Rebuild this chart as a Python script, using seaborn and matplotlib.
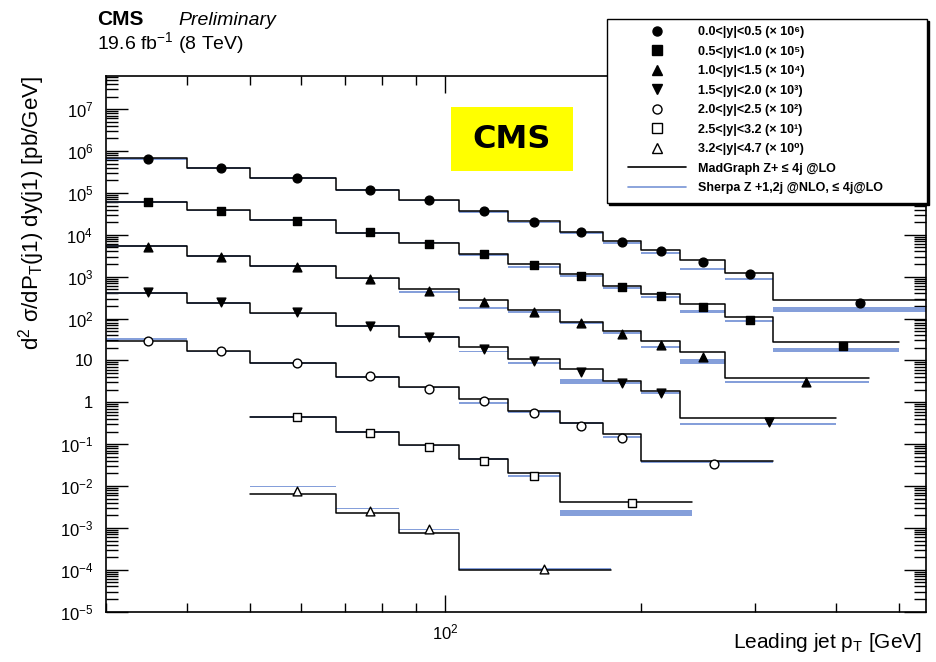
import numpy as np
import pandas as pd
import matplotlib
matplotlib.use("Agg")
import matplotlib.pyplot as plt
from matplotlib.ticker import FixedLocator, LogLocator, FuncFormatter, NullFormatter
from matplotlib.lines import Line2D
from matplotlib.patches import Rectangle
from matplotlib.font_manager import FontProperties
import seaborn as sns

# ---------------------------------------------------------------------------
# Z + jets, 8 TeV: leading-jet pT spectrum in bins of leading-jet rapidity
# (cross sections in pb/GeV, before the per-bin display scale factor)
# ---------------------------------------------------------------------------
rapidity_bins = ["0.0<|y|<0.5", "0.5<|y|<1.0", "1.0<|y|<1.5", "1.5<|y|<2.0",
                 "2.0<|y|<2.5", "2.5<|y|<3.2", "3.2<|y|<4.7"]
scale_exp = [6, 5, 4, 3, 2, 1, 0]

# pT bin edges [GeV]
edges_0 = [30, 40, 50, 68, 85, 105, 125, 150, 175, 200, 230, 270, 320, 550]
edges_1 = [30, 40, 50, 68, 85, 105, 125, 150, 175, 200, 230, 270, 320, 500]
edges_2 = [30, 40, 50, 68, 85, 105, 125, 150, 175, 200, 230, 270, 450]
edges_3 = [30, 40, 50, 68, 85, 105, 125, 150, 175, 200, 230, 400]
edges_4 = [30, 40, 50, 68, 85, 105, 125, 150, 175, 200, 320]
edges_5 = [50, 68, 85, 105, 125, 150, 240]
edges_6 = [50, 68, 85, 105, 180]

# mean pT of each bin (marker position) [GeV]
pt_0 = [34.9, 45.1, 59.2, 76.7, 94.5, 114.8, 137, 161.9, 187.2, 214.9, 249.4, 294.5, 434.8]
pt_1 = [34.9, 45.1, 59.2, 76.7, 94.5, 114.8, 137, 161.9, 187.2, 214.9, 249.4, 294.5, 410]
pt_2 = [34.9, 45.1, 59.2, 76.7, 94.5, 114.8, 137, 161.9, 187.2, 214.9, 249.4, 360]
pt_3 = [34.9, 45.1, 59.2, 76.7, 94.5, 114.8, 137, 161.9, 187.2, 214.9, 315]
pt_4 = [34.9, 45.1, 59.2, 76.7, 94.5, 114.8, 137, 161.9, 187.2, 259]
pt_5 = [59.2, 76.7, 94.5, 114.8, 137, 194]
pt_6 = [59.2, 76.7, 94.5, 142]

# measured cross sections
data_0 = [6.4e-1, 3.9e-1, 2.32e-1, 1.18e-1, 6.9e-2, 3.72e-2, 2.0e-2, 1.15e-2, 6.66e-3, 4.06e-3, 2.22e-3, 1.16e-3, 2.33e-4]
data_1 = [6.0e-1, 3.72e-1, 2.18e-1, 1.15e-1, 6.06e-2, 3.56e-2, 1.91e-2, 1.03e-2, 5.8e-3, 3.47e-3, 1.87e-3, 9.4e-4, 2.26e-4]
data_2 = [5.06e-1, 3.0e-1, 1.74e-1, 8.71e-2, 4.66e-2, 2.5e-2, 1.44e-2, 7.75e-3, 4.3e-3, 2.39e-3, 1.21e-3, 3.12e-4]
data_3 = [4.26e-1, 2.54e-1, 1.42e-1, 6.79e-2, 3.59e-2, 1.88e-2, 9.9e-3, 5.4e-3, 2.86e-3, 1.70e-3, 3.46e-4]
data_4 = [2.97e-1, 1.66e-1, 8.87e-2, 4.27e-2, 2.09e-2, 1.06e-2, 5.48e-3, 2.73e-3, 1.435e-3, 3.38e-4]
data_5 = [4.4e-2, 1.89e-2, 8.75e-3, 3.98e-3, 1.745e-3, 3.89e-4]
data_6 = [7.65e-3, 2.55e-3, 9.46e-4, 1.05e-4]

# MadGraph Z + <=4j @LO prediction
mg_0 = [6.76e-1, 4.03e-1, 2.32e-1, 1.18e-1, 6.82e-2, 3.79e-2, 2.11e-2, 1.15e-2, 7.27e-3, 4.36e-3, 2.48e-3, 1.25e-3, 2.79e-4]
mg_1 = [6.21e-1, 3.87e-1, 2.27e-1, 1.13e-1, 6.31e-2, 3.50e-2, 2.02e-2, 1.16e-2, 6.02e-3, 3.88e-3, 2.20e-3, 1.11e-3, 2.72e-4]
mg_2 = [5.43e-1, 3.18e-1, 1.81e-1, 9.35e-2, 5.02e-2, 2.79e-2, 1.61e-2, 8.18e-3, 5.07e-3, 2.97e-3, 1.60e-3, 3.76e-4]
mg_3 = [4.03e-1, 2.40e-1, 1.34e-1, 6.67e-2, 3.71e-2, 2.14e-2, 1.07e-2, 6.17e-3, 3.24e-3, 1.87e-3, 4.17e-4]
mg_4 = [2.88e-1, 1.66e-1, 8.87e-2, 4.11e-2, 2.29e-2, 1.19e-2, 6.22e-3, 3.22e-3, 1.73e-3, 3.98e-4]
mg_5 = [4.48e-2, 2.0e-2, 9.44e-3, 4.45e-3, 2.02e-3, 4.25e-4]
mg_6 = [6.59e-3, 2.24e-3, 7.73e-4, 1.01e-4]

# Sherpa Z + 1,2j @NLO, <=4j @LO prediction and its relative uncertainty
sh_0 = [6.6e-1, 3.95e-1, 2.27e-1, 1.15e-1, 6.6e-2, 3.58e-2, 1.96e-2, 1.09e-2, 6.31e-3, 3.64e-3, 1.53e-3, 8.85e-4, 1.67e-4]
sh_1 = [6.0e-1, 3.8e-1, 2.22e-1, 1.11e-1, 6.55e-2, 3.31e-2, 1.74e-2, 1.03e-2, 5.31e-3, 3.34e-3, 1.47e-3, 8.8e-4, 1.81e-4]
sh_2 = [5.3e-1, 3.1e-1, 1.77e-1, 9.1e-2, 4.41e-2, 1.83e-2, 1.44e-2, 7.75e-3, 4.61e-3, 2.14e-3, 9.37e-4, 3.02e-4]
sh_3 = [4.0e-1, 2.38e-1, 1.32e-1, 6.6e-2, 3.65e-2, 1.63e-2, 8.59e-3, 3.12e-3, 2.86e-3, 1.70e-3, 3.05e-4]
sh_4 = [3.21e-1, 1.64e-1, 8.7e-2, 4.05e-2, 2.25e-2, 9.84e-3, 5.79e-3, 3.16e-3, 1.52e-3, 3.7e-4]
sh_5 = [4.4e-2, 1.97e-2, 9.3e-3, 4.4e-3, 1.77e-3, 2.28e-4]
sh_6 = [9.9e-3, 2.89e-3, 9.31e-4, 1.05e-4]

shu_0 = [.05, .05, .05, .05, .05, .05, .05, .05, .05, .05, .07, .07, .15]
shu_1 = [.05, .05, .05, .05, .05, .05, .05, .05, .05, .05, .07, .06, .12]
shu_2 = [.05, .05, .05, .05, .05, .05, .05, .05, .05, .05, .13, .06]
shu_3 = [.05, .05, .05, .05, .05, .05, .05, .13, .05, .06, .06]
shu_4 = [.05, .05, .05, .05, .05, .05, .05, .05, .05, .05]
shu_5 = [.05, .05, .05, .05, .05, .17]
shu_6 = [.04, .04, .04, .04]

# axis tick positions
x_major_ticks = [100]
y_major_ticks = [1e-5, 1e-4, 1e-3, 1e-2, 1e-1, 1, 10, 1e2, 1e3, 1e4, 1e5, 1e6, 1e7]

edges = [edges_0, edges_1, edges_2, edges_3, edges_4, edges_5, edges_6]
pts = [pt_0, pt_1, pt_2, pt_3, pt_4, pt_5, pt_6]
data = [data_0, data_1, data_2, data_3, data_4, data_5, data_6]
madgraph = [mg_0, mg_1, mg_2, mg_3, mg_4, mg_5, mg_6]
sherpa = [sh_0, sh_1, sh_2, sh_3, sh_4, sh_5, sh_6]
sherpa_unc = [shu_0, shu_1, shu_2, shu_3, shu_4, shu_5, shu_6]

markers = ["o", "s", "^", "v", "o", "s", "^"]
filled = [True, True, True, True, False, False, False]

SHERPA_COLOR = "#7895d6"
SUPERSCRIPT = str.maketrans("0123456789", "⁰¹²³⁴⁵⁶⁷⁸⁹")

# ---------------------------------------------------------------------------
sns.set_style("ticks")
plt.rcParams["font.family"] = ["Liberation Sans", "DejaVu Sans"]
plt.rcParams["mathtext.fontset"] = "custom"
plt.rcParams["mathtext.rm"] = "Liberation Sans"
plt.rcParams["mathtext.it"] = "Liberation Sans:italic"
plt.rcParams["mathtext.bf"] = "Liberation Sans:bold"
plt.rcParams["mathtext.default"] = "regular"
plt.rcParams["text.color"] = "black"
plt.rcParams["axes.labelcolor"] = "black"

W, H = 936, 662
fig = plt.figure(figsize=(W / 100, H / 100), dpi=100)
fig.patch.set_facecolor("white")
ax_l, ax_r, ax_t, ax_b = 105.7, 926, 75.7, 611.7
ax = fig.add_axes([ax_l / W, 1 - ax_b / H, (ax_r - ax_l) / W, (ax_b - ax_t) / H])

for i in range(len(rapidity_bins)):
    f = 10.0 ** scale_exp[i]
    e = np.asarray(edges[i], float)
    sh = np.asarray(sherpa[i]) * f
    su = np.asarray(sherpa_unc[i])
    # Sherpa: horizontal band per bin
    ax.stairs(sh * (1 + su), e, baseline=sh * (1 - su), fill=True,
              color=SHERPA_COLOR, lw=0, alpha=0.9, zorder=2)

    # MadGraph: black step histogram
    mg = np.asarray(madgraph[i]) * f
    step = pd.DataFrame({"pt": e, "xsec": np.append(mg, mg[-1])})
    sns.lineplot(data=step, x="pt", y="xsec", ax=ax, drawstyle="steps-post",
                 color="black", lw=1.1, errorbar=None, sort=False,
                 legend=False, zorder=3)

    # data points
    pts_df = pd.DataFrame({"pt": pts[i], "xsec": np.asarray(data[i]) * f})
    sns.scatterplot(data=pts_df, x="pt", y="xsec", ax=ax, marker=markers[i],
                    s=40, facecolor="black" if filled[i] else "white",
                    edgecolor="black", linewidth=1.0, zorder=4, legend=False)

ax.set_xscale("log")
ax.set_yscale("log")
ax.set_xlim(30, 550)
ax.set_ylim(1e-5, 6.3e7)


def pow10_label(v, pos):
    n = int(round(np.log10(v)))
    if n == 0:
        return "1"
    if n == 1:
        return "10"
    return r"$\mathdefault{10^{%d}}$" % n


ax.yaxis.set_major_locator(FixedLocator(y_major_ticks))
ax.yaxis.set_minor_locator(LogLocator(base=10, subs=np.arange(2, 10), numticks=100))
ax.yaxis.set_major_formatter(FuncFormatter(pow10_label))
ax.yaxis.set_minor_formatter(NullFormatter())
ax.xaxis.set_major_locator(FixedLocator(x_major_ticks))
ax.xaxis.set_minor_locator(LogLocator(base=10, subs=np.arange(2, 10), numticks=20))
ax.xaxis.set_major_formatter(FuncFormatter(pow10_label))
ax.xaxis.set_minor_formatter(NullFormatter())

ax.tick_params(axis="both", which="both", direction="in", top=True, right=True,
               colors="black", labelsize=12, width=1.0)
ax.tick_params(axis="x", which="major", length=12.5, pad=8)
ax.tick_params(axis="x", which="minor", length=6.5)
ax.tick_params(axis="y", which="major", length=16, pad=9)
ax.tick_params(axis="y", which="minor", length=8.5)
for s in ax.spines.values():
    s.set_linewidth(1.2)
    s.set_color("black")
ax.grid(False)

ax.set_ylabel(r"d$^{2}$ σ/dP$_{T}$(j1) dy(j1) [pb/GeV]", fontsize=16, ha="right")
ax.yaxis.set_label_coords((47 - ax_l) / (ax_r - ax_l), 1.0)
ax.set_xlabel(r"Leading jet p$_{T}$ [GeV]", fontsize=15, ha="right", va="top")
ax.xaxis.set_label_coords((922 - ax_l) / (ax_r - ax_l), -(631 - ax_b) / (ax_b - ax_t))

# experiment header
fig.text(97 / W, 1 - 25 / H, "CMS", fontsize=15, fontweight="bold", va="baseline")
fig.text(178 / W, 1 - 25 / H, "Preliminary", fontsize=14, fontstyle="italic", va="baseline")
fig.text(97 / W, 1 - 49 / H, r"19.6 fb$^{-1}$ (8 TeV)", fontsize=14, va="baseline")

# yellow logo box
fig.add_artist(Rectangle((451 / W, 1 - 171 / H), 122 / W, 64 / H,
                         transform=fig.transFigure, facecolor="#ffff00",
                         edgecolor="none", zorder=5))
fig.text(512 / W, 1 - 139 / H, "CMS", fontsize=23, fontweight="bold", color="black",
         family="DejaVu Sans", ha="center", va="center", zorder=6)

# legend box with drop shadow
lx0, lx1, ly0, ly1 = 607, 927, 19, 203
fig.add_artist(Rectangle(((lx0 + 2) / W, 1 - (ly1 + 2) / H), (lx1 - lx0) / W, (ly1 - ly0) / H,
                         transform=fig.transFigure, facecolor="black",
                         edgecolor="black", lw=1.0, zorder=5))
fig.add_artist(Rectangle((lx0 / W, 1 - ly1 / H), (lx1 - lx0) / W, (ly1 - ly0) / H,
                         transform=fig.transFigure, facecolor="white",
                         edgecolor="black", lw=1.0, zorder=5.5))

handles, labels = [], []
for i, lab in enumerate(rapidity_bins):
    handles.append(Line2D([], [], linestyle="none", marker=markers[i], markersize=6.5,
                          markerfacecolor="black" if filled[i] else "white",
                          markeredgecolor="black", markeredgewidth=1.0))
    labels.append(f"{lab} (× 10{str(scale_exp[i]).translate(SUPERSCRIPT)})")
handles.append(Line2D([], [], color="black", lw=1.2))
labels.append("MadGraph Z+ ≤ 4j @LO")
handles.append(Line2D([], [], color=SHERPA_COLOR, lw=1.2))
labels.append("Sherpa Z +1,2j @NLO, ≤ 4j@LO")

leg = fig.legend(handles, labels, loc="upper left",
                 bbox_to_anchor=(622 / W, 1 - 20 / H), frameon=False,
                 borderpad=0, handlelength=4.6, handletextpad=0.95,
                 labelspacing=0.6,
                 prop=FontProperties(family=["Liberation Sans", "DejaVu Sans"],
                                     weight="bold", size=9))
leg.set_zorder(7)

fig.savefig("out.png", dpi=100, facecolor="white")
